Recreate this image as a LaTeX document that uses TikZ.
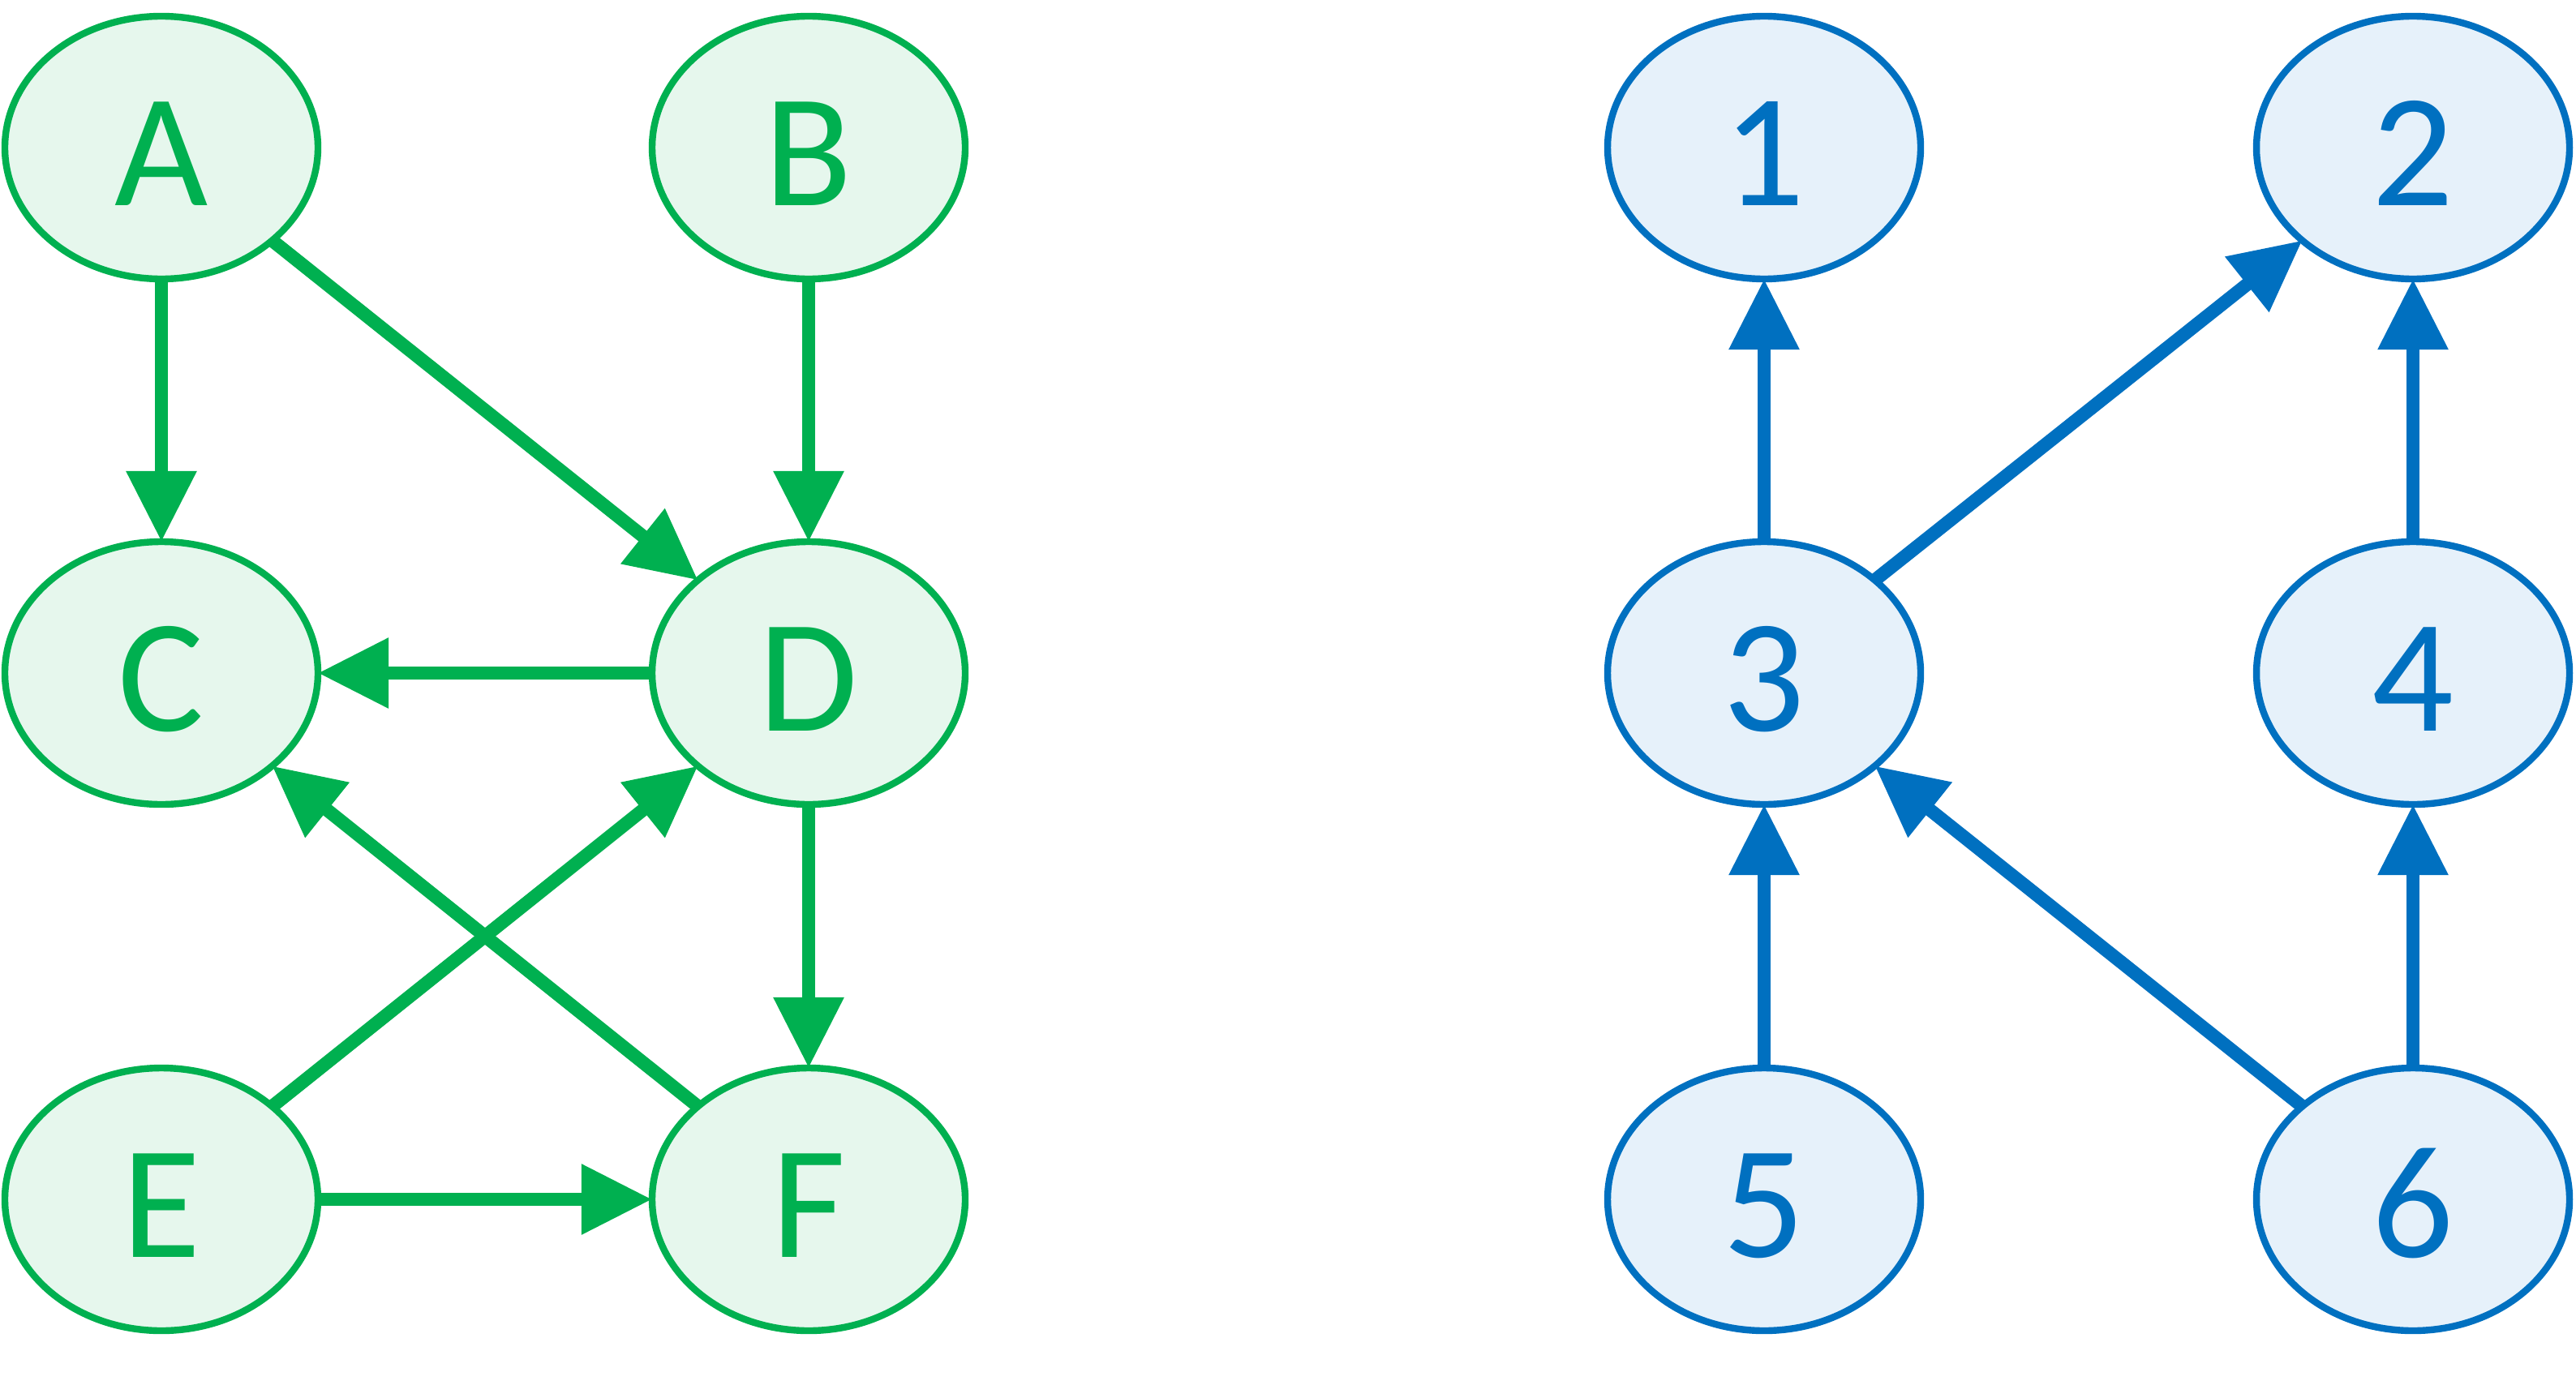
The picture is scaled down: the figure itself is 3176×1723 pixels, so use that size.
\documentclass[tikz,border=0pt]{standalone}
\usepackage{fontspec}
\setmainfont{Carlito}
\usetikzlibrary{arrows.meta,shapes.geometric}
\definecolor{grn}{RGB}{0,176,80}
\definecolor{grnfill}{RGB}{230,247,237}
\definecolor{blu}{RGB}{0,112,192}
\definecolor{blufill}{RGB}{230,241,250}
\begin{document}
\begin{tikzpicture}[x=0.25pt,y=-0.25pt,
  vertex/.style={ellipse,draw,line width=2.1pt,inner sep=0pt,outer sep=0pt,
    minimum width=96.5pt,minimum height=81pt,
    text height=35.5pt,text depth=0pt,
    font=\fontsize{49.75}{55}\selectfont},
  gvert/.style={vertex,draw=grn,fill=grnfill,text=grn},
  bvert/.style={vertex,draw=blu,fill=blufill,text=blu},
  edge/.style={line width=4.1pt,-{Triangle[length=21.8pt,width=20.75pt]}},
  gedge/.style={edge,draw=grn,fill=grn},
  bedge/.style={edge,draw=blu,fill=blu}]
\useasboundingbox (0,0) rectangle (3176,1723);
% left graph
\node[gvert] (A) at (199,182) {A};
\node[gvert] (B) at (997,182) {B};
\node[gvert] (C) at (199,830) {C};
\node[gvert] (D) at (997,830) {D};
\node[gvert] (E) at (199,1479) {E};
\node[gvert] (F) at (997,1479) {F};
\draw[gedge] (A.south) -- (C.north);
\draw[gedge] (A.south east) -- (D.north west);
\draw[gedge] (B.south) -- (D.north);
\draw[gedge] (D.west) -- (C.east);
\draw[gedge] (D.south) -- (F.north);
\draw[gedge] (E.north east) -- (D.south west);
\draw[gedge] (F.north west) -- (C.south east);
\draw[gedge] (E.east) -- (F.west);
% right graph
\node[bvert] (n1) at (2175,182) {1};
\node[bvert] (n2) at (2975,182) {2};
\node[bvert] (n3) at (2175,830) {3};
\node[bvert] (n4) at (2975,830) {4};
\node[bvert] (n5) at (2175,1479) {5};
\node[bvert] (n6) at (2975,1479) {6};
\draw[bedge] (n3.north) -- (n1.south);
\draw[bedge] (n3.north east) -- (n2.south west);
\draw[bedge] (n4.north) -- (n2.south);
\draw[bedge] (n5.north) -- (n3.south);
\draw[bedge] (n6.north west) -- (n3.south east);
\draw[bedge] (n6.north) -- (n4.south);
\end{tikzpicture}
\end{document}
